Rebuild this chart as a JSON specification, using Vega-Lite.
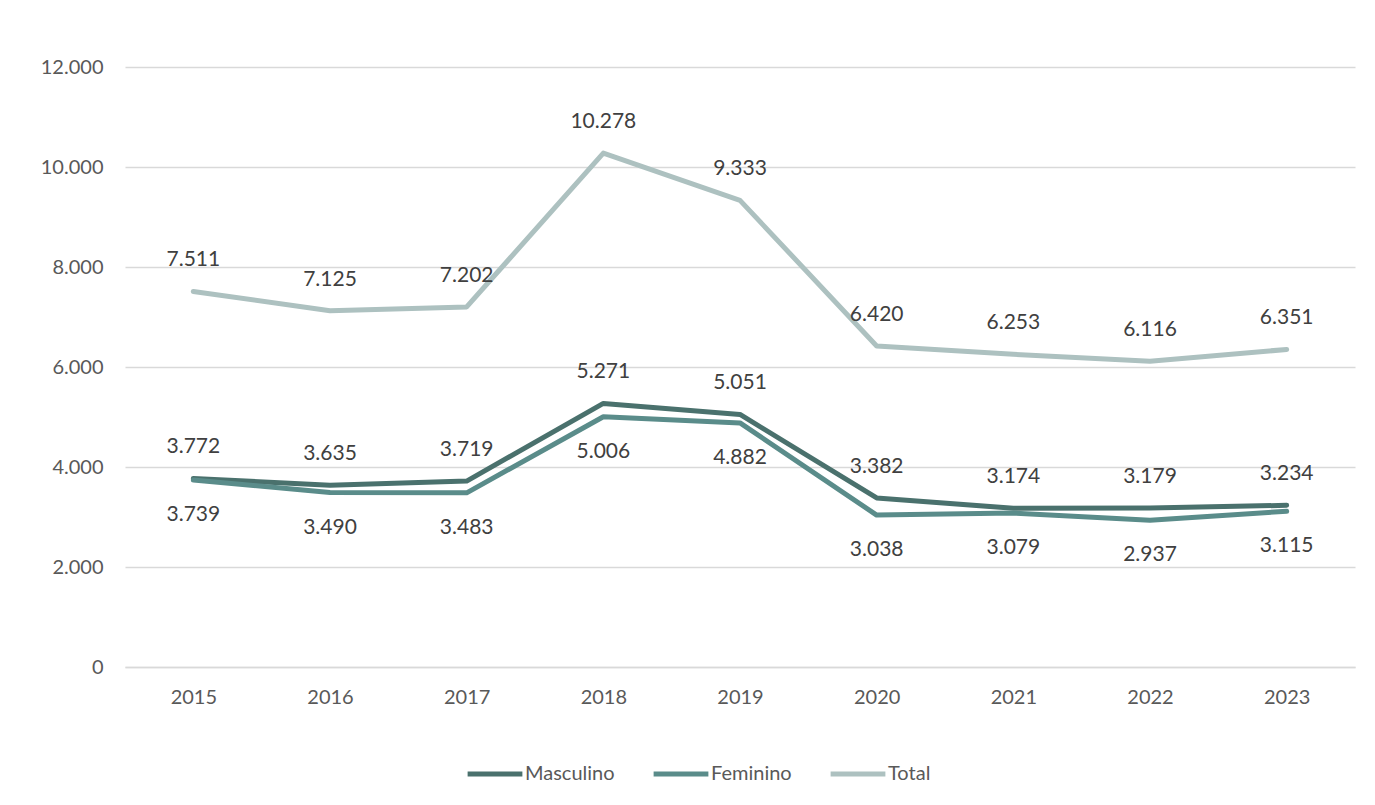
{
  "$schema": "https://vega.github.io/schema/vega-lite/v6.json",
  "width": 1230,
  "height": 600,
  "autosize": {"type": "none"},
  "padding": {"left": 125, "top": 67, "right": 20, "bottom": 138},
  "background": "white",
  "config": {
    "locale": {"number": {"decimal": ",", "thousands": ".", "grouping": [3], "currency": ["R$", ""]}},
    "font": "Lato",
    "view": {"stroke": null}
  },
  "data": {
    "values": [
      {"ano": "2015", "sexo": "Masculino", "valor": 3772},
      {"ano": "2016", "sexo": "Masculino", "valor": 3635},
      {"ano": "2017", "sexo": "Masculino", "valor": 3719},
      {"ano": "2018", "sexo": "Masculino", "valor": 5271},
      {"ano": "2019", "sexo": "Masculino", "valor": 5051},
      {"ano": "2020", "sexo": "Masculino", "valor": 3382},
      {"ano": "2021", "sexo": "Masculino", "valor": 3174},
      {"ano": "2022", "sexo": "Masculino", "valor": 3179},
      {"ano": "2023", "sexo": "Masculino", "valor": 3234},
      {"ano": "2015", "sexo": "Feminino", "valor": 3739},
      {"ano": "2016", "sexo": "Feminino", "valor": 3490},
      {"ano": "2017", "sexo": "Feminino", "valor": 3483},
      {"ano": "2018", "sexo": "Feminino", "valor": 5006},
      {"ano": "2019", "sexo": "Feminino", "valor": 4882},
      {"ano": "2020", "sexo": "Feminino", "valor": 3038},
      {"ano": "2021", "sexo": "Feminino", "valor": 3079},
      {"ano": "2022", "sexo": "Feminino", "valor": 2937},
      {"ano": "2023", "sexo": "Feminino", "valor": 3115},
      {"ano": "2015", "sexo": "Total", "valor": 7511},
      {"ano": "2016", "sexo": "Total", "valor": 7125},
      {"ano": "2017", "sexo": "Total", "valor": 7202},
      {"ano": "2018", "sexo": "Total", "valor": 10278},
      {"ano": "2019", "sexo": "Total", "valor": 9333},
      {"ano": "2020", "sexo": "Total", "valor": 6420},
      {"ano": "2021", "sexo": "Total", "valor": 6253},
      {"ano": "2022", "sexo": "Total", "valor": 6116},
      {"ano": "2023", "sexo": "Total", "valor": 6351}
    ]
  },
  "encoding": {
    "x": {
      "field": "ano", "type": "ordinal", "title": null,
      "scale": {"paddingInner": 0, "paddingOuter": 0},
      "axis": {"labelAngle": 0, "labelFontSize": 20, "labelColor": "#595959", "labelPadding": 20, "ticks": false, "domain": true, "domainColor": "#d9d9d9", "domainWidth": 1.5, "grid": false}
    },
    "y": {
      "field": "valor", "type": "quantitative", "title": null,
      "scale": {"domain": [0, 12000], "nice": false},
      "axis": {"values": [0, 2000, 4000, 6000, 8000, 10000, 12000], "format": ",d", "labelFontSize": 20, "labelColor": "#595959", "labelPadding": 22, "ticks": false, "domain": false, "gridColor": "#d9d9d9", "gridWidth": 1.5}
    }
  },
  "layer": [
    {
      "mark": {"type": "line", "strokeWidth": 5, "strokeCap": "round", "strokeJoin": "round"},
      "encoding": {
        "color": {
          "field": "sexo", "type": "nominal",
          "scale": {"domain": ["Masculino", "Feminino", "Total"], "range": ["#4a716d", "#5a8c8a", "#adc1c0"]},
          "sort": ["Masculino", "Feminino", "Total"],
          "legend": {"title": null, "orient": "none", "legendX": 340, "legendY": 677, "direction": "horizontal", "symbolType": "stroke", "symbolStrokeWidth": 5, "symbolSize": 3000, "labelFontSize": 20, "labelColor": "#595959", "columnPadding": 28, "labelOffset": 0}
        }
      }
    },
    {
      "transform": [{"filter": "datum.sexo !== 'Feminino'"}],
      "mark": {"type": "text", "dy": -31, "fontSize": 21, "color": "#404040"},
      "encoding": {"text": {"field": "valor", "type": "quantitative", "format": ",d"}}
    },
    {
      "transform": [{"filter": "datum.sexo === 'Feminino'"}],
      "mark": {"type": "text", "dy": 35, "fontSize": 21, "color": "#404040"},
      "encoding": {"text": {"field": "valor", "type": "quantitative", "format": ",d"}}
    }
  ]
}
